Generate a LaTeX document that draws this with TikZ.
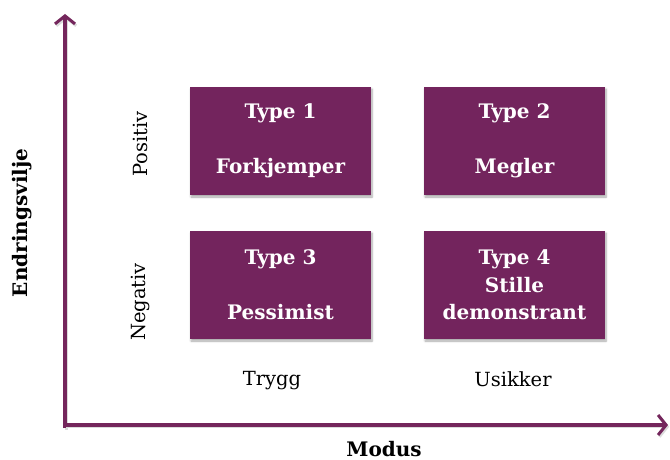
\documentclass[tikz,border=0pt]{standalone}
\usepackage{fontspec}
\setmainfont{DejaVu Serif}
\usetikzlibrary{arrows.meta,shadows.blur}
\definecolor{plum}{HTML}{73245D}
\definecolor{axisplum}{HTML}{74265C}
\tikzset{
  axis/.style={draw=axisplum, line width=3.2pt,
    -{Straight Barb[length=8pt,width=20pt,line width=3pt]},
    preaction={draw=black!14, line width=3.2pt,
      transform canvas={shift={(1.2pt,-1.8pt)}}}},
  typebox/.style={fill=plum, text=white, minimum width=181pt, minimum height=108pt,
    inner sep=0pt, align=center, font=\fontsize{20}{27.5}\selectfont\bfseries,
    blur shadow={shadow xshift=1pt, shadow yshift=-2pt, shadow blur steps=6, shadow opacity=35}},
  lbl/.style={font=\fontsize{19.5}{22}\selectfont, inner sep=0pt},
  title/.style={font=\fontsize{20}{22}\selectfont\bfseries, inner sep=0pt}
}
\begin{document}
\begin{tikzpicture}[x=1pt,y=-1pt]
  \useasboundingbox (0,0) rectangle (670,460);

  % axes
  \coordinate (origin) at (65,425);
  \coordinate (foot) at (65,428);
  \coordinate (ytip) at (65,14);
  \coordinate (xtip) at (668,425);
  \draw[axis] (foot) -- (ytip);
  \draw[axis] (origin) -- (xtip);

  % the four quadrants
  \node[typebox] (t1) at (280.5,141) {Type 1\\[27.5pt]Forkjemper};
  \node[typebox] (t2) at (514.5,141) {Type 2\\[27.5pt]Megler};
  \node[typebox] (t3) at (280.5,285) {Type 3\\[27.5pt]Pessimist};
  \node[typebox] (t4) at (514.5,285) {Type 4\\Stille\\demonstrant};

  % axis titles
  \node[title, rotate=90] (ylab) at (22,223) {Endringsvilje};
  \node[title] (xlab) at (384,449) {Modus};

  % category labels
  \node[lbl, rotate=90] (pos) at (140,144) {Positiv};
  \node[lbl, rotate=90] (neg) at (140,302) {Negativ};
  \node[lbl] (trygg) at (272,381) {Trygg};
  \node[lbl] (usikker) at (513,379) {Usikker};
\end{tikzpicture}
\end{document}
